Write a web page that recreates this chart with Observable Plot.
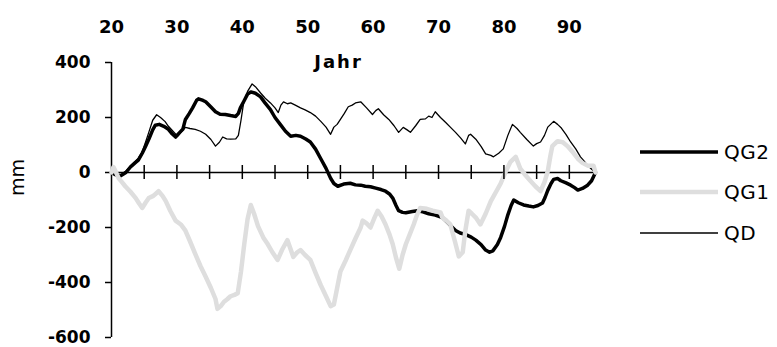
<!DOCTYPE html>
<html>
<head>
<meta charset="utf-8">
<script src="https://cdn.jsdelivr.net/npm/d3@7"></script>
<script src="https://cdn.jsdelivr.net/npm/@observablehq/plot@0.6"></script>
<style>
  body { margin: 0; background: #fff; }
  #wrap { position: relative; width: 777px; height: 347px; font-family: "DejaVu Sans", sans-serif; overflow: hidden; }
  #legend { position: absolute; left: 0; top: 0; }
  .item { position: absolute; display: flex; align-items: center; }
  .item span { font-size: 20px; color: #000; margin-left: 6px; line-height: 1; letter-spacing: 0.5px; }
</style>
</head>
<body>
<div id="wrap"><div id="legend"></div></div>
<script>
// ---- data ----
const seriesNames = ["QG2", "QG1", "QD"];
const seriesColors = ["#000000", "#dedede", "#000000"];
const seriesWidths = [3.5, 4.5, 1.3];

const xLabelTicks = [20, 30, 40, 50, 60, 70, 80, 90];
const xZeroTicks = [25, 30, 35, 40, 45, 50, 55, 60, 65, 70, 75, 80, 85, 90];
const yTicks = [-600, -400, -200, 0, 200, 400];

const qdYears = [20.0,20.6,21.4,22.2,22.9,23.6,24.1,24.7,25.2,25.7,26.3,26.9,27.5,28.2,28.7,29.4,30.1,30.6,31.3,32.0,32.8,33.6,34.4,35.2,35.9,36.5,37.0,37.6,38.2,39.0,39.4,39.8,40.2,40.8,41.5,42.0,42.8,43.5,44.3,45.0,45.5,45.9,46.3,46.9,47.4,48.1,48.9,49.6,50.4,51.2,52.0,52.8,53.5,54.0,54.5,55.0,55.6,56.2,56.8,57.3,58.1,59.0,59.9,60.4,60.8,61.6,62.4,63.2,63.9,64.6,65.2,65.7,66.5,67.2,68.0,68.5,69.0,69.5,70.3,71.1,71.8,72.6,73.4,74.1,74.6,74.9,75.7,76.5,77.2,78.0,78.4,79.2,79.9,80.6,81.3,82.0,82.5,83.5,84.5,85.0,85.6,86.2,86.7,87.6,88.2,88.7,89.5,90.2,91.0,91.7,92.3,92.8,93.5,94.0];
const qdValues = [0,-5,-10,5,25,40,52,75,110,146,190,210,200,185,168,150,132,145,164,160,157,150,139,120,96,110,129,122,121,122,135,190,253,295,322,312,289,270,253,235,218,245,257,250,253,245,235,228,218,205,186,165,139,165,175,193,215,239,245,253,257,235,211,225,232,210,193,170,146,164,155,146,170,193,195,205,200,221,200,182,165,146,125,104,135,139,121,95,68,62,57,70,86,135,175,160,146,120,96,105,111,135,165,186,175,164,138,111,85,57,40,25,10,0];

const qg2Years = [20.0,20.6,21.4,22.2,22.9,23.6,24.1,24.7,25.2,25.7,26.3,26.7,27.3,28.0,28.7,29.3,29.8,30.4,30.9,31.3,31.9,32.4,33.0,33.3,34.0,34.4,35.2,35.9,36.6,37.4,38.2,39.0,39.4,39.7,40.3,40.8,41.3,42.0,42.8,43.5,44.3,45.0,45.8,46.6,47.4,48.2,48.9,49.7,50.4,51.2,52.0,52.8,53.5,54.0,54.6,55.5,56.5,57.3,58.1,58.8,59.6,60.4,61.2,61.9,62.5,63.0,63.5,63.9,64.5,65.0,66.0,66.8,67.6,68.5,69.5,70.6,71.5,72.6,73.3,74.1,75.0,75.7,76.5,77.2,77.8,78.3,79.0,79.5,80.1,80.6,81.1,81.5,82.2,83.0,83.8,84.5,85.2,85.9,86.3,86.7,87.2,87.6,88.2,88.7,89.5,90.2,90.8,91.3,92.0,92.8,93.4,94.0];
const qg2Values = [0,-8,-12,0,20,35,45,70,95,121,155,172,175,168,157,140,129,145,157,193,215,235,262,268,262,257,238,221,212,211,207,204,215,235,262,285,293,288,275,252,229,200,175,150,132,135,132,122,111,85,50,15,-21,-40,-50,-42,-39,-45,-46,-50,-52,-57,-62,-68,-78,-93,-120,-139,-145,-146,-142,-139,-143,-150,-155,-164,-185,-211,-220,-225,-235,-246,-262,-282,-290,-285,-262,-236,-195,-154,-120,-100,-110,-118,-122,-125,-120,-111,-90,-65,-40,-25,-22,-30,-38,-46,-55,-64,-58,-46,-30,0];

const qg1Years = [20.0,20.3,20.7,21.1,21.6,22.1,22.9,23.7,24.2,24.7,25.2,25.7,26.4,27.2,27.8,28.3,29.0,29.8,30.6,31.3,32.0,32.8,33.6,34.4,35.2,35.9,36.2,36.7,37.2,37.7,38.2,38.8,39.3,39.8,40.3,40.8,41.3,41.8,42.4,43.2,43.9,44.6,45.4,46.1,46.9,47.4,47.8,48.4,48.9,49.6,50.4,51.2,52.0,52.8,53.5,54.0,54.5,55.0,55.8,56.5,57.3,58.1,58.4,59.0,59.6,60.2,60.7,61.3,61.9,62.5,63.0,63.5,64.0,64.5,65.0,65.6,66.2,66.7,67.2,68.2,69.1,70.3,70.6,71.2,71.8,72.5,73.1,73.7,74.1,74.6,75.1,75.7,76.4,77.2,78.0,78.8,79.5,80.2,81.0,81.8,82.5,83.3,84.1,84.8,85.6,86.2,86.7,87.1,87.4,88.2,89.0,89.7,90.5,91.3,92.0,92.8,93.7,94.0];
const qg1Values = [0,20,0,-21,-35,-50,-70,-93,-112,-129,-110,-93,-85,-68,-85,-104,-140,-175,-189,-211,-250,-296,-340,-379,-420,-460,-496,-486,-470,-461,-450,-445,-439,-360,-260,-170,-118,-150,-195,-236,-261,-290,-318,-280,-246,-280,-307,-290,-282,-300,-318,-365,-410,-450,-486,-480,-420,-360,-320,-282,-240,-200,-175,-185,-200,-165,-139,-160,-189,-225,-261,-310,-350,-300,-261,-225,-189,-155,-129,-132,-139,-145,-164,-175,-189,-250,-305,-290,-211,-139,-150,-164,-189,-150,-104,-70,-40,0,39,57,14,-10,-32,-50,-68,-35,4,60,96,114,110,96,75,50,35,25,25,0];

// ---- build ----
const rows = (name, ys, vs) => ys.map((y, i) => ({ series: name, year: y, value: vs[i] }));
const qg2 = rows("QG2", qg2Years, qg2Values);
const qg1 = rows("QG1", qg1Years, qg1Values);
const qd = rows("QD", qdYears, qdValues);

const plot = Plot.plot({
  width: 777,
  height: 347,
  marginLeft: 111,
  marginRight: 182,
  marginTop: 62,
  marginBottom: 10,
  x: { domain: [20, 94] },
  y: { domain: [-600, 400] },
  style: { fontFamily: "DejaVu Sans, sans-serif", fontSize: "17px", color: "#000", background: "#fff" },
  marks: [
    Plot.axisX({ ticks: xLabelTicks, anchor: "top", tickSize: 0, tickPadding: 30, fontWeight: "bold", fontSize: 18, label: null, tickFormat: d => String(d) }),
    Plot.axisY({ ticks: yTicks, anchor: "left", tickSize: 6, tickPadding: 15, fontWeight: "bold", fontSize: 17, label: null, strokeWidth: 1.5, tickFormat: d => String(d) }),
    Plot.ruleX([20], { y1: -600, y2: 400, strokeWidth: 1.5 }),
    Plot.ruleY([0], { strokeWidth: 1.5 }),
    Plot.line(qd, { x: "year", y: "value", stroke: seriesColors[2], strokeWidth: seriesWidths[2] }),
    Plot.line(qg2, { x: "year", y: "value", stroke: seriesColors[0], strokeWidth: seriesWidths[0] }),
    Plot.line(qg1, { x: "year", y: "value", stroke: seriesColors[1], strokeWidth: seriesWidths[1] }),
    Plot.ruleX(xZeroTicks, { x: d => d, y1: 0, y2: 0, insetTop: -7, insetBottom: -7, strokeWidth: 1.5 }),
    Plot.text(["Jahr"], { frameAnchor: "top", dx: -15, dy: -7, fontWeight: "bold", fontSize: 18 }),
    Plot.text(["mm"], { frameAnchor: "left", rotate: -90, dx: -94, dy: -4, fontSize: 19 })
  ]
});

d3.select(plot).selectAll("text").filter(function () { return this.textContent === "Jahr"; })
  .style("letter-spacing", "2px");

const wrap = document.getElementById("wrap");
wrap.insertBefore(plot, wrap.firstChild);

// legend
const legendY = [152, 192, 233];
const legend = d3.select("#legend");
seriesNames.forEach((name, i) => {
  const item = legend.append("div").attr("class", "item")
    .style("left", "640px").style("top", (legendY[i] - 12) + "px").style("height", "24px");
  const s = item.append("svg").attr("width", 78).attr("height", 24);
  s.append("line").attr("x1", 0).attr("x2", 78).attr("y1", 12).attr("y2", 12)
    .attr("stroke", seriesColors[i]).attr("stroke-width", seriesWidths[i]);
  item.append("span").text(name);
});
</script>
</body>
</html>
